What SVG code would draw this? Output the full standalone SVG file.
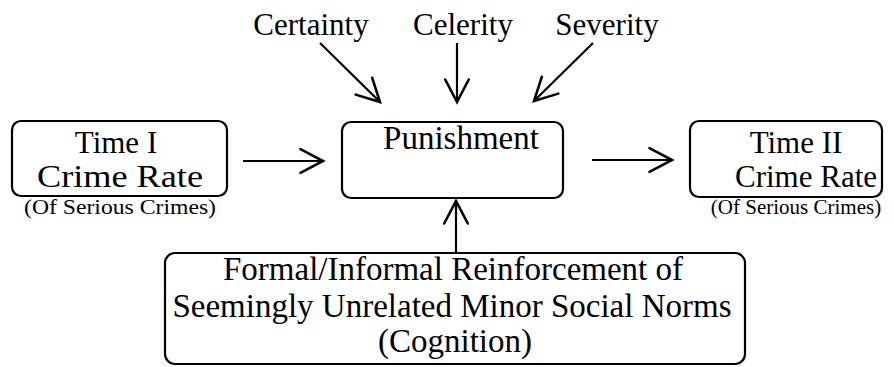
<svg xmlns="http://www.w3.org/2000/svg" width="894" height="367" viewBox="0 0 894 367">
  <defs>
    <marker id="openV" markerUnits="userSpaceOnUse" markerWidth="30" markerHeight="30" viewBox="-24 -14 28 28" refX="0" refY="0" orient="auto" overflow="visible">
      <path d="M -21 -11 L 0 0 L -21 11" fill="none" stroke="#000" stroke-width="2.4" stroke-linecap="round" stroke-linejoin="miter"/>
    </marker>
  </defs>
  <style>
    .box { fill: none; stroke: #000; stroke-width: 2.2; }
    text { font-family: 'Liberation Serif', 'Times New Roman', serif; fill: #000; text-anchor: middle; }
    .big { font-size: 33px; }
    .mid { font-size: 31px; }
    .lab { font-size: 31px; }
    .small { font-size: 21px; }
    .conn line { stroke: #000; stroke-width: 2.2; marker-end: url(#openV); }
  </style>
  <rect width="894" height="367" fill="#fff"/>

  <g id="certainty"><text class="lab" x="311" y="35">Certainty</text></g>
  <g id="celerity"><text class="lab" x="463" y="35">Celerity</text></g>
  <g id="severity"><text class="lab" x="607" y="35">Severity</text></g>

  <g id="time1">
    <rect class="box" x="12" y="121" width="215" height="75" rx="9"/>
    <text class="mid" x="116" y="153">Time I</text>
    <text class="mid" x="120" y="187" textLength="166" lengthAdjust="spacingAndGlyphs">Crime Rate</text>
    <text class="small" x="120" y="214" textLength="192" lengthAdjust="spacingAndGlyphs">(Of Serious Crimes)</text>
  </g>

  <g id="punishment">
    <rect class="box" x="342" y="122" width="221" height="76" rx="9"/>
    <text class="big" x="461" y="149">Punishment</text>
  </g>

  <g id="time2">
    <rect class="box" x="690" y="121" width="192" height="76" rx="9"/>
    <text class="mid" x="796" y="153">Time II</text>
    <text class="mid" x="806" y="187">Crime Rate</text>
    <text class="small" x="796" y="214">(Of Serious Crimes)</text>
  </g>

  <g id="reinforcement">
    <rect class="box" x="165" y="253" width="580" height="111" rx="10"/>
    <text class="big" x="453" y="280">Formal/Informal Reinforcement of</text>
    <text class="big" x="452" y="317">Seemingly Unrelated Minor Social Norms</text>
    <text class="big" x="455" y="352">(Cognition)</text>
  </g>

  <g id="connectors" class="conn">
    <line x1="320" y1="43" x2="380" y2="102"/>
    <line x1="457" y1="43" x2="457" y2="102"/>
    <line x1="593" y1="43" x2="534" y2="101"/>
    <line x1="243" y1="161" x2="323" y2="161"/>
    <line x1="592" y1="160" x2="672" y2="160"/>
    <line x1="456" y1="252" x2="456" y2="201"/>
  </g>
</svg>
